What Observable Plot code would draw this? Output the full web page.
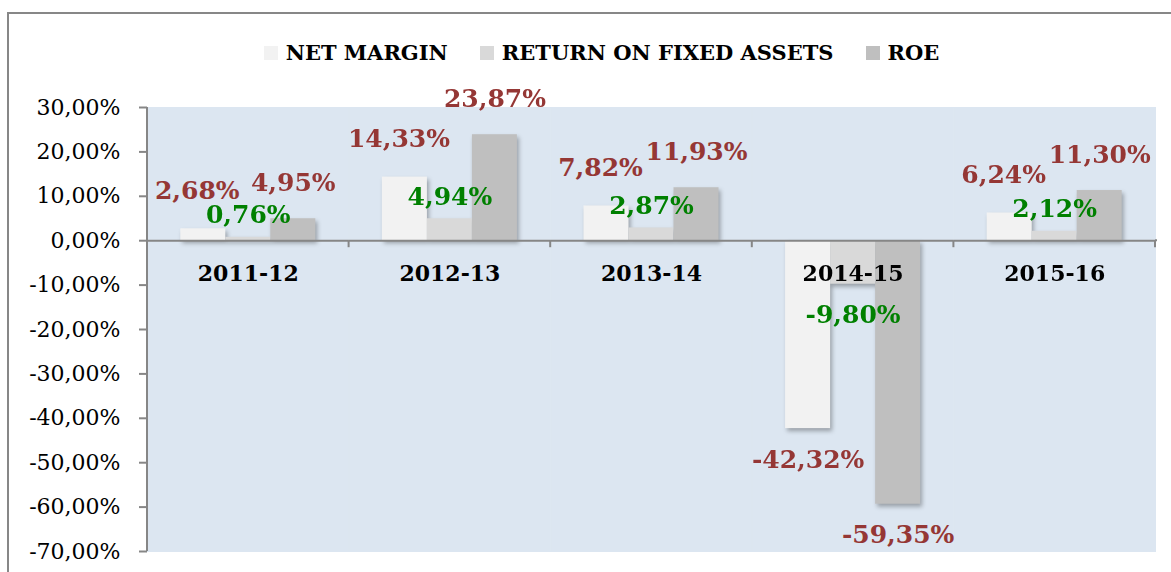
<!DOCTYPE html>
<html>
<head>
<meta charset="utf-8">
<script src="https://cdn.jsdelivr.net/npm/d3@7"></script>
<script src="https://cdn.jsdelivr.net/npm/@observablehq/plot@0.6"></script>
<style>
  html, body { margin: 0; padding: 0; background: #fff; }
  #wrap { position: relative; width: 1171px; height: 572px; overflow: hidden; }
  .frameTop { position: absolute; left: 7px; top: 12px; width: 1164px; height: 2px; background: #878787; }
  .frameLeft { position: absolute; left: 7px; top: 12px; width: 2px; height: 560px; background: #878787; }
  #legend { height: 90px; display: flex; justify-content: center; align-items: flex-start; padding-left: 32px; box-sizing: border-box;
            font-family: "DejaVu Serif", serif; font-weight: bold; font-size: 21px; color: #000; }
  #legend .item { display: flex; align-items: center; margin: 0 16px; margin-top: 40px; }
  #legend .sw { width: 14px; height: 14px; margin-right: 8px; }
  #chart svg { display: block; }
</style>
</head>
<body>
<div id="wrap">
  <div class="frameTop"></div>
  <div class="frameLeft"></div>
  <div id="legend"></div>
  <div id="chart"></div>
</div>
<script>
// ---- data ----
const years = ["2011-12", "2012-13", "2013-14", "2014-15", "2015-16"];
const seriesNames = ["NET MARGIN", "RETURN ON FIXED ASSETS", "ROE"];
const netMargin = [2.68, 14.33, 7.82, -42.32, 6.24];
const returnOnFixedAssets = [0.76, 4.94, 2.87, -9.80, 2.12];
const roe = [4.95, 23.87, 11.93, -59.35, 11.30];
const yTicks = [-70, -60, -50, -40, -30, -20, -10, 0, 10, 20, 30];

// ---- styles ----
const barColors = ["#F2F2F2", "#D9D9D9", "#BFBFBF"];
const labelColors = ["#953735", "#008000", "#953735"];
const posDy = [-38, -22, -36];
const posDx = [-6, 0, 0];
const negDy = 31;
const fmt = v => v.toFixed(2).replace(".", ",") + "%";

const seriesValues = [netMargin, returnOnFixedAssets, roe];
const rows = [];
years.forEach((yr, j) => seriesNames.forEach((s, i) => rows.push({year: yr, series: s, value: seriesValues[i][j], si: i})));

// legend
const legend = document.getElementById("legend");
seriesNames.forEach((s, i) => {
  const it = document.createElement("div");
  it.className = "item";
  it.innerHTML = `<span class="sw" style="background:${barColors[i]}"></span><span>${s}</span>`;
  legend.appendChild(it);
});

const labelFont = {fontFamily: "DejaVu Serif", fontWeight: "bold", fontSize: 25};
const textMarks = [];
seriesNames.forEach((s, i) => {
  textMarks.push(Plot.text(rows.filter(d => d.si === i && d.value >= 0), {
    fx: "year", x: "series", y: "value", text: d => fmt(d.value), dy: posDy[i], dx: posDx[i], fill: labelColors[i], ...labelFont
  }));
  textMarks.push(Plot.text(rows.filter(d => d.si === i && d.value < 0), {
    fx: "year", x: "series", y: "value", text: d => fmt(d.value), dy: negDy, fill: labelColors[i], ...labelFont
  }));
});

const chart = Plot.plot({
  width: 1171,
  height: 482,
  marginTop: 17,
  marginBottom: 21,
  marginLeft: 147,
  marginRight: 16,
  style: {fontFamily: "DejaVu Serif", fontSize: "22px", background: "transparent", overflow: "visible", color: "#000"},
  fx: {domain: years, padding: 0, axis: null, round: false},
  x: {domain: seriesNames, paddingInner: 0, paddingOuter: 0.74, axis: null, round: false},
  y: {domain: [-70, 30], axis: null},
  color: {domain: seriesNames, range: barColors},
  marks: [
    Plot.frame({fill: "#DCE6F1", stroke: "#DCE6F1", strokeWidth: 1}),
    Plot.barY(rows, {fx: "year", x: "series", y: "value", fill: "series"}),
    Plot.ruleY([0], {stroke: "#868686", strokeWidth: 2}),
    Plot.axisY({ticks: yTicks, tickFormat: fmt, label: null, tickSize: 8, tickPadding: 19, stroke: "#868686", strokeWidth: 2, fill: "#000", fontSize: 22, fontFamily: "DejaVu Serif"}),
    Plot.text(years, {fx: d => d, y: d => 0, text: d => d, dy: 33, fontWeight: "bold", fontSize: 22, fontFamily: "DejaVu Serif", fill: "#000"}),
    ...textMarks
  ]
});
document.getElementById("chart").appendChild(chart);

// post: bar shadows, y-axis line, group boundary ticks (using Plot's own scales)
const svg = d3.select(chart);
svg.selectAll('g[aria-label="bar"]').style("filter", "drop-shadow(2px 3px 2px rgba(0,0,0,0.3))");
const fx = chart.scale("fx"), ys = chart.scale("y");
const y0 = ys.apply(0), yTop = ys.apply(30), yBot = ys.apply(-70);
const xLeft = fx.apply(years[0]);
const g = svg.append("g").attr("stroke", "#868686").attr("stroke-width", 2);
g.append("line").attr("x1", xLeft).attr("x2", xLeft).attr("y1", yTop).attr("y2", yBot);
years.forEach((yr, j) => {
  const xs = [fx.apply(yr)];
  if (j === years.length - 1) xs.push(fx.apply(yr) + fx.bandwidth);
  xs.forEach(x => g.append("line").attr("x1", x).attr("x2", x).attr("y1", y0).attr("y2", y0 + 7));
});
g.append("line").attr("x1", fx.apply(years[years.length-1]) + fx.bandwidth).attr("x2", fx.apply(years[years.length-1]) + fx.bandwidth + 2).attr("y1", y0).attr("y2", y0);
</script>
</body>
</html>
